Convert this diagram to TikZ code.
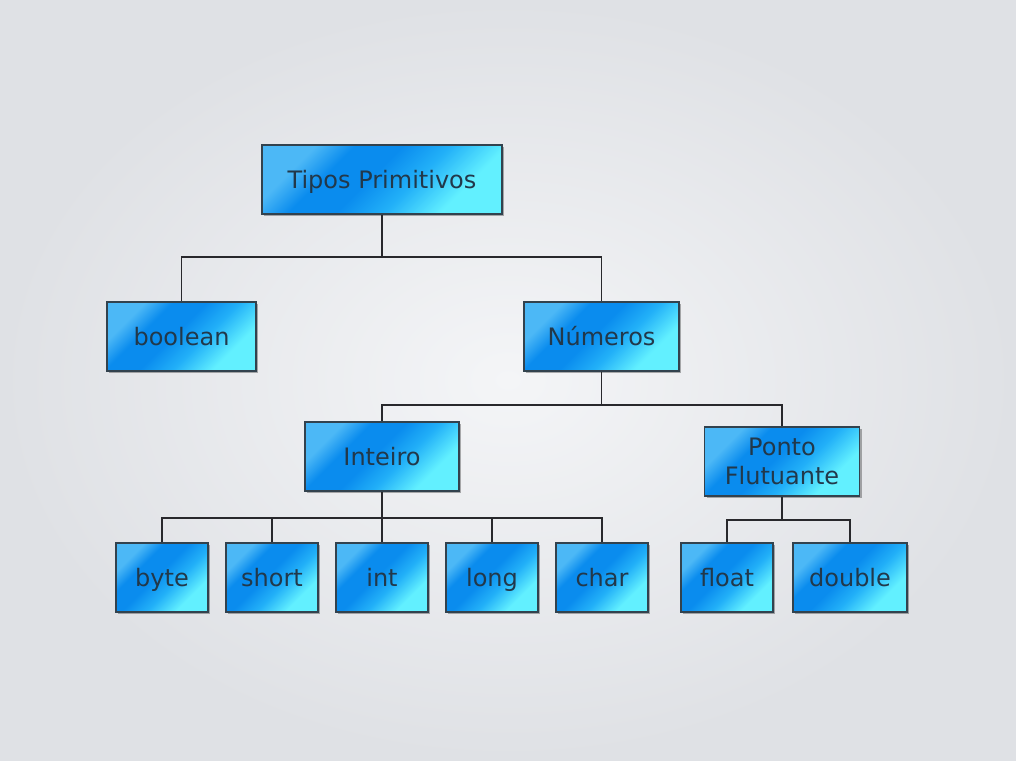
\documentclass[tikz,border=0pt]{standalone}
\usepackage{fontspec}
\setmainfont{DejaVu Sans}
\usetikzlibrary{shadows}
\definecolor{bgin}{RGB}{244,245,247}
\definecolor{bgout}{RGB}{223,225,229}
\definecolor{hl}{RGB}{76,184,246}
\definecolor{deep}{RGB}{10,140,238}
\definecolor{mid}{RGB}{34,176,248}
\definecolor{cy}{RGB}{98,240,255}
\definecolor{edge}{RGB}{50,66,78}
\definecolor{txt}{RGB}{34,56,74}
\definecolor{wire}{RGB}{40,40,44}
\pgfdeclarehorizontalshading{boxshade}{100bp}{color(0bp)=(hl); color(27bp)=(hl); color(36bp)=(deep); color(47bp)=(deep); color(58bp)=(mid); color(71bp)=(cy); color(100bp)=(cy)}
\tikzset{
  box/.style={draw=edge, line width=1.3pt, shading=boxshade, shading angle=-45,
    drop shadow={shadow xshift=2pt, shadow yshift=-2pt, fill=black, opacity=0.3},
    minimum height=69pt, inner sep=0pt, text=txt,
    font=\fontsize{24}{29}\selectfont},
  one/.style={box, text height=17.5pt, text depth=0pt},
  wirestyle/.style={draw=wire, line width=1.4pt}
}
\begin{document}
\begin{tikzpicture}[x=1pt,y=-1pt]
\fill[inner color=bgin, outer color=bgout] (0,0) rectangle (1016,760);
\useasboundingbox (0,0) rectangle (1016,760);
% nodes
\node[one, minimum width=240pt] (tp) at (382,179.5) {Tipos Primitivos};
\node[one, minimum width=149pt] (bool) at (181.5,336.5) {boolean};
\node[one, minimum width=155pt] (num) at (601.5,336.5) {Números};
\node[one, minimum width=154pt] (int) at (382,456.5) {Inteiro};
\node[box, minimum width=155pt, align=center] (pf) at (782,461.5) {Ponto\\Flutuante};
\node[one, minimum width=92pt] (byte) at (162,577.5) {byte};
\node[one, minimum width=92pt] (short) at (272,577.5) {short};
\node[one, minimum width=92pt] (i) at (382,577.5) {int};
\node[one, minimum width=92pt] (long) at (492,577.5) {long};
\node[one, minimum width=92pt] (char) at (602,577.5) {char};
\node[one, minimum width=92pt] (float) at (727,577.5) {float};
\node[one, minimum width=114pt] (double) at (850,577.5) {double};
% bus coordinates
\coordinate (b1) at (382,257);
\coordinate (b2) at (601.5,405);
\coordinate (b3) at (382,518);
\coordinate (b4) at (782,520);
% connectors
\draw[wirestyle] (tp.south) -- (b1);
\draw[wirestyle] (b1) -| (bool.north);
\draw[wirestyle] (b1) -| (num.north);
\draw[wirestyle] (num.south) -- (b2);
\draw[wirestyle] (b2) -| (int.north);
\draw[wirestyle] (b2) -| (pf.north);
\draw[wirestyle] (int.south) -- (b3);
\draw[wirestyle] (b3) -| (byte.north);
\draw[wirestyle] (b3) -| (short.north);
\draw[wirestyle] (b3) -| (i.north);
\draw[wirestyle] (b3) -| (long.north);
\draw[wirestyle] (b3) -| (char.north);
\draw[wirestyle] (pf.south) -- (b4);
\draw[wirestyle] (b4) -| (float.north);
\draw[wirestyle] (b4) -| (double.north);
\end{tikzpicture}
\end{document}
